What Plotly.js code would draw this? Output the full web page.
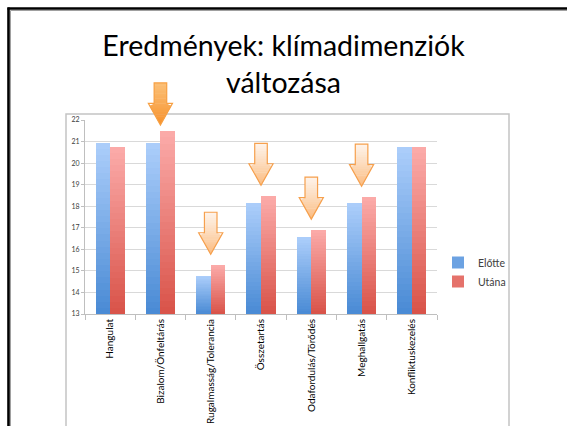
<!DOCTYPE html>
<html>
<head>
<meta charset="utf-8">
<script src="https://cdn.plot.ly/plotly-3.0.1.min.js"></script>
<style>html,body{margin:0;padding:0;background:#fff;}#chart{width:567px;height:426px;}</style>
</head>
<body>
<div id="chart"></div>
<script>
// ---- data ----
const categories = ['Hangulat','Bizalom/Önfeltárás','Rugalmasság/Tolerancia','Összetartás','Odafordulás/Törődés','Meghallgatás','Konfliktuskezelés'];
const elotte = [20.95, 20.92, 14.77, 18.15, 16.56, 18.15, 20.73];
const utana  = [20.74, 21.50, 15.27, 18.47, 16.90, 18.43, 20.73];
const seriesNames = ['Előtte','Utána'];
const yTicks = [13,14,15,16,17,18,19,20,21,22];
const arrowCats = ['Bizalom/Önfeltárás','Rugalmasság/Tolerancia','Összetartás','Odafordulás/Törődés','Meghallgatás'];

// ---- geometry / styling ----
const W = 567, H = 426;
const M = {l:85, r:130, t:120, b:112};
const PW = W - M.l - M.r, PH = H - M.t - M.b;
const yMin = 13, yMax = 22;
const nCat = categories.length;
const px2x = px => (px - M.l) / PW;
const px2y = py => (H - M.b - py) / PH;
const dataY2paper = v => (v - yMin) / (yMax - yMin);
const catX2paper = c => (c + 0.5) / nCat;

function hex2rgb(h){h=h.replace('#','');return [0,2,4].map(i=>parseInt(h.substr(i,2),16));}
function lerp(c1,c2,t){const a=hex2rgb(c1),b=hex2rgb(c2);return 'rgb('+a.map((v,i)=>Math.round(v+(b[i]-v)*t)).join(',')+')';}

const seriesCols = [
  {bottom:'#4a8bd5', top:'#abcdfa', offset:-0.29},
  {bottom:'#d9544a', top:'#fbaaa8', offset:0.0}
];
const barW = 0.29;
const NSEG = 28;
const traces = [];
[elotte, utana].forEach((vals, s) => {
  const c = seriesCols[s];
  for (let k = 0; k < NSEG; k++) {
    traces.push({
      type:'bar', x:categories,
      y: vals.map(v => (v - yMin) / NSEG * 1.02),
      base: vals.map(v => yMin + (v - yMin) * k / NSEG),
      width: barW, offset: c.offset,
      marker:{color: lerp(c.bottom, c.top, k/(NSEG-1)), line:{width:0}},
      showlegend:false, hoverinfo:'skip'
    });
  }
});
// legend entries
seriesNames.forEach((n, s) => {
  traces.push({type:'bar', x:[categories[0]], y:[null], name:n, width:barW, offset:seriesCols[s].offset,
    marker:{color: lerp(seriesCols[s].bottom, seriesCols[s].top, 0.35)}, showlegend:true});
});

// ---- arrows ----
const shapes = [];
const headW = 0.48, stemW = 0.25, totalH = 1.95, headH = 1.0;
arrowCats.forEach((cat, j) => {
  const i = categories.indexOf(cat);
  const solid = (j === 0);
  const gap = solid ? 0.27 : 0.5;
  const yP = utana[i] + gap, yHd = yP + headH, yT = yP + totalH;
  const cx = i; // category index
  const xp = d => catX2paper(cx + d);
  const topC = solid ? '#fbbe74' : '#fef2e8';
  const botC = solid ? '#f7922d' : '#fbbd82';
  const wAt = y => (y >= yHd) ? stemW : headW * (y - yP) / (yHd - yP);
  const Ns = 8, Nh = 10;
  const bands = [];
  for (let k = 0; k < Ns; k++) bands.push([yT - (yT - yHd) * k / Ns, yT - (yT - yHd) * (k + 1) / Ns, true]);
  for (let k = 0; k < Nh; k++) bands.push([yHd - (yHd - yP) * k / Nh, yHd - (yHd - yP) * (k + 1) / Nh, false]);
  bands.forEach((b, bi) => {
    const t = bi / (bands.length - 1);
    const [ya, yb, stem] = b;
    const wa = stem ? stemW : wAt(ya), wb = stem ? stemW : wAt(yb);
    const ybb = yb - (bi < bands.length - 1 ? 0.02 : 0);
    const path = `M${xp(-wa/2)},${dataY2paper(ya)} L${xp(wa/2)},${dataY2paper(ya)} L${xp(wb/2)},${dataY2paper(ybb)} L${xp(-wb/2)},${dataY2paper(ybb)} Z`;
    shapes.push({type:'path', xref:'paper', yref:'paper', path, fillcolor: lerp(topC, botC, t), line:{width:0}, layer:'above'});
  });
  const pts = [[-stemW/2,yT],[stemW/2,yT],[stemW/2,yHd],[headW/2,yHd],[0,yP],[-headW/2,yHd],[-stemW/2,yHd]];
  const outline = 'M' + pts.map(p => xp(p[0]) + ',' + dataY2paper(p[1])).join(' L') + ' Z';
  shapes.push({type:'path', xref:'paper', yref:'paper', path: outline, fillcolor:'rgba(0,0,0,0)',
    line:{color: solid ? '#f7a043' : '#f6a04d', width:1.2}, layer:'above'});
});

// chart frame (gray) and slide border (black)
shapes.push({type:'rect', xref:'paper', yref:'paper', x0:px2x(66), x1:px2x(509), y0:px2y(440), y1:px2y(114), line:{color:'#c4c4c4', width:1.5}, fillcolor:'rgba(0,0,0,0)', layer:'below'});
shapes.push({type:'line', xref:'paper', yref:'paper', x0:px2x(10.5), x1:px2x(10.5), y0:px2y(10.5), y1:px2y(440), line:{color:'#a0a0a0', width:1}});
shapes.push({type:'line', xref:'paper', yref:'paper', x0:px2x(10.5), x1:px2x(580), y0:px2y(10.5), y1:px2y(10.5), line:{color:'#a0a0a0', width:1}});
shapes.push({type:'line', xref:'paper', yref:'paper', x0:px2x(8.5), x1:px2x(8.5), y0:px2y(7.5), y1:px2y(440), line:{color:'#000', width:2.6}});
shapes.push({type:'line', xref:'paper', yref:'paper', x0:px2x(7.5), x1:px2x(580), y0:px2y(8.5), y1:px2y(8.5), line:{color:'#000', width:2.6}});

const layout = {
  width:W, height:H, margin:M, paper_bgcolor:'#fff', plot_bgcolor:'#fff',
  barmode:'overlay', bargap:0,
  font:{family:'Lato, "Open Sans", sans-serif', color:'#000'},
  title:{text:'Eredmények: klímadimenziók<br>változása', xref:'container', yref:'container', x:0.5, xanchor:'center', y:1-56/H, yanchor:'middle',
    font:{family:'Lato, sans-serif', size:28.5, color:'#000'}},
  xaxis:{type:'category', range:[-0.5, nCat-0.5], showline:true, linecolor:'#bfbfbf', linewidth:1,
    ticks:'outside', tickson:'boundaries', ticklen:5, tickcolor:'#bfbfbf', tickangle:-90,
    tickfont:{family:'Lato, sans-serif', size:10, color:'#000'}, showgrid:false, fixedrange:true},
  yaxis:{range:[yMin, yMax], tickvals:yTicks, ticktext:yTicks.map(String), showline:true, linecolor:'#bfbfbf', linewidth:1,
    ticks:'outside', ticklen:3, tickcolor:'#bfbfbf', showgrid:true, gridcolor:'#d9d9d9', gridwidth:1, zeroline:false,
    tickfont:{family:'Lato, sans-serif', size:7, color:'#404040'}, fixedrange:true},
  legend:{x:px2x(438), y:px2y(272), xanchor:'left', yanchor:'middle', font:{family:'Lato, sans-serif', size:10.5, color:'#404040'},
    bgcolor:'rgba(0,0,0,0)', itemwidth:30, tracegroupgap:0},
  showlegend:true,
  shapes
};
Plotly.newPlot('chart', traces, layout, {displayModeBar:false, staticPlot:true});
</script>
</body>
</html>
